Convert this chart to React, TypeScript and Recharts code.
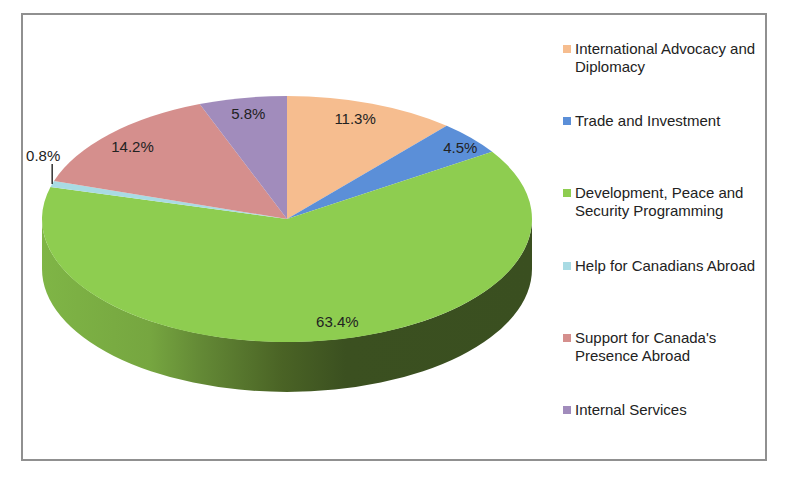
import { PieChart, Pie, Cell, Legend } from "recharts";

const categories = [
  "International Advocacy and Diplomacy",
  "Trade and Investment",
  "Development, Peace and Security Programming",
  "Help for Canadians Abroad",
  "Support for Canada's Presence Abroad",
  "Internal Services",
];
const shares = [11.3, 4.5, 63.4, 0.8, 14.2, 5.8];
const colors = ["#f6bd8f", "#5b8fd8", "#8ecd50", "#a9dbe4", "#d58f8d", "#a18cbc"];

const data = categories.map((name, i) => ({ name, value: shares[i] }));

// the pie is squashed into an ellipse to look tilted, like the 3-D Excel one
const CX = 287;
const CY = 219;
const RX = 245;
const RY = 123;
const DEPTH = 50;
const LABEL_RADIUS = 0.87;
const labelNudge = [[-6, 0], [13, -1], [17, -3], [0, 0], [0, 1], [0, 0]];

const point = (clock: number, dy = 0) => {
  const rad = (clock * Math.PI) / 180;
  return [CX + RX * Math.sin(rad), CY - RY * Math.cos(rad) + dy];
};

function EllipseSlice(props: any) {
  const { startAngle, endAngle, fill } = props;
  const from = 90 - startAngle;
  const to = 90 - endAngle;
  const [x1, y1] = point(from);
  const [x2, y2] = point(to);
  const large = to - from > 180 ? 1 : 0;

  // only the front half of the rim shows
  const sideFrom = Math.max(from, 90);
  const sideTo = Math.min(to, 270);
  let side = null;
  if (sideTo > sideFrom) {
    const [a1, b1] = point(sideFrom);
    const [a2, b2] = point(sideTo);
    const [a3, b3] = point(sideTo, DEPTH);
    const [a4, b4] = point(sideFrom, DEPTH);
    side = (
      <path
        d={`M${a1},${b1} A${RX},${RY} 0 0 1 ${a2},${b2} L${a3},${b3} A${RX},${RY} 0 0 0 ${a4},${b4} Z`}
        fill="url(#rimShade)"
      />
    );
  }
  return (
    <g>
      {side}
      <path d={`M${CX},${CY} L${x1},${y1} A${RX},${RY} 0 ${large} 1 ${x2},${y2} Z`} fill={fill} />
    </g>
  );
}

function SliceLabel(props: any) {
  const { midAngle, value, index } = props;
  const clock = 90 - midAngle;
  const text = `${value}%`;
  const [ex, ey] = point(clock);
  if (value < 1) {
    return (
      <g>
        <line x1={ex} y1={ey} x2={ex} y2={ey - 20} stroke="#111" strokeWidth={1.3} />
        <text x={ex - 9} y={ey - 28} textAnchor="middle" dominantBaseline="central" fontSize={15} fill="#222">
          {text}
        </text>
      </g>
    );
  }
  const [dx, dy] = labelNudge[index];
  return (
    <text
      x={CX + (ex - CX) * LABEL_RADIUS + dx}
      y={CY + (ey - CY) * LABEL_RADIUS + dy}
      textAnchor="middle"
      dominantBaseline="central"
      fontSize={15}
      fill="#222"
    >
      {text}
    </text>
  );
}

function LegendList({ payload }: any) {
  return (
    <div>
      {(payload || []).map((item: any) => (
        <div key={item.value} style={{ height: 72.2, position: "relative" }}>
          <span
            style={{ position: "absolute", left: 0, top: 5, width: 8, height: 8, background: item.color }}
          />
          <div style={{ marginLeft: 12, fontSize: 15, lineHeight: "18px", color: "#222", width: 192 }}>
            {item.value}
          </div>
        </div>
      ))}
    </div>
  );
}

export default function App() {
  return (
    <div
      style={{
        position: "absolute",
        left: 0,
        top: 0,
        width: 794,
        height: 482,
        background: "#fff",
        fontFamily: "'Liberation Sans', Arial, sans-serif",
      }}
    >
      <div
        style={{
          position: "absolute",
          left: 21,
          top: 13,
          width: 742,
          height: 444,
          border: "2px solid #909090",
        }}
      />
      <PieChart width={794} height={482} style={{ position: "absolute", left: 0, top: 0 }}>
        <defs>
          <linearGradient id="rimShade" gradientUnits="userSpaceOnUse" x1={42} y1={0} x2={532} y2={0}>
            <stop offset="0" stopColor="#7fb546" />
            <stop offset="0.22" stopColor="#76a640" />
            <stop offset="0.32" stopColor="#648a36" />
            <stop offset="0.49" stopColor="#4a6325" />
            <stop offset="0.62" stopColor="#3b5020" />
            <stop offset="1" stopColor="#3a4f20" />
          </linearGradient>
        </defs>
        <Pie
          data={data}
          dataKey="value"
          nameKey="name"
          cx={CX}
          cy={CY}
          outerRadius={RX}
          startAngle={90}
          endAngle={-270}
          stroke="none"
          shape={EllipseSlice}
          label={SliceLabel}
          labelLine={false}
          isAnimationActive={false}
        >
          {data.map((d, i) => (
            <Cell key={d.name} fill={colors[i]} />
          ))}
        </Pie>
        <Legend
          layout="vertical"
          itemSorter={null}
          content={<LegendList />}
          wrapperStyle={{ position: "absolute", left: 563, top: 40, width: 205, bottom: "auto", right: "auto" }}
        />
      </PieChart>
    </div>
  );
}
